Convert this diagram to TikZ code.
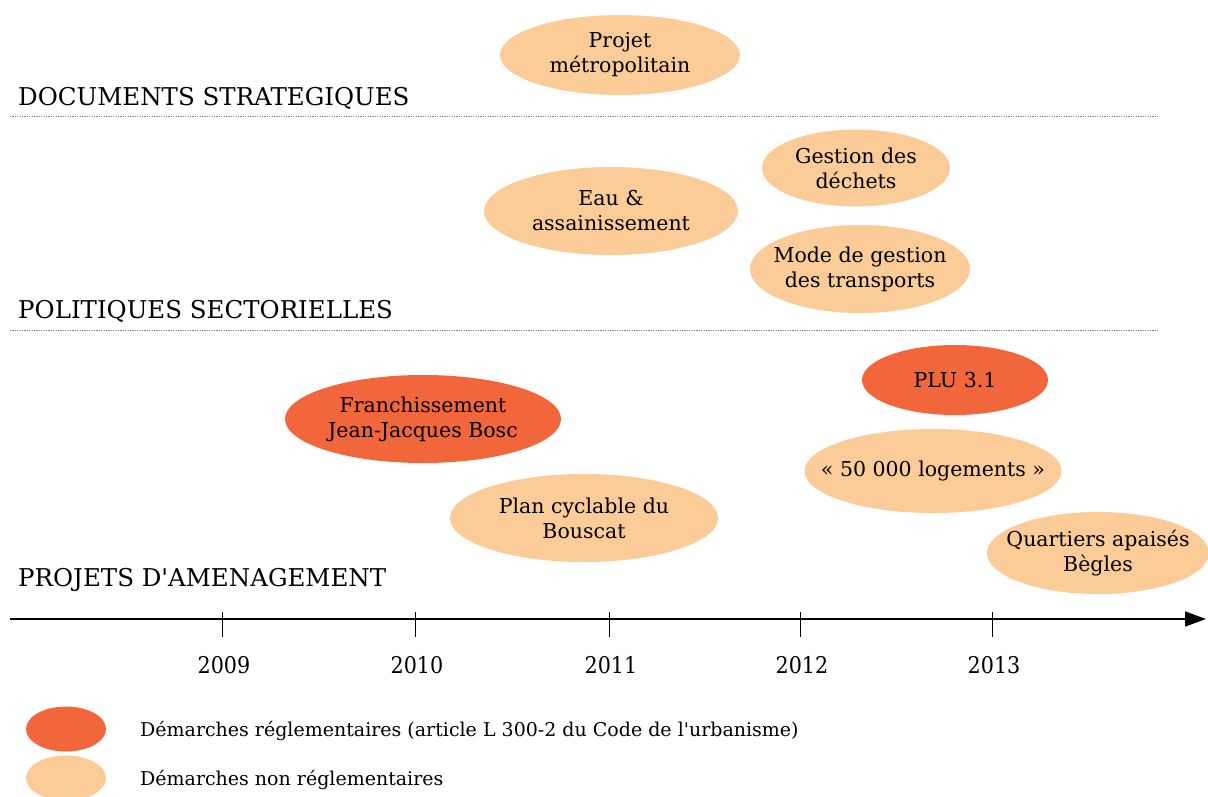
\documentclass[tikz,border=0pt]{standalone}
\usepackage{fontspec}
\setmainfont{DejaVu Serif}
\usetikzlibrary{shapes.geometric,arrows.meta}
\definecolor{dark}{RGB}{241,102,58}
\definecolor{light}{RGB}{251,203,152}
\tikzset{
  blob/.style={ellipse, inner sep=0pt},
  reg/.style={blob, fill=dark},
  nonreg/.style={blob, fill=light},
  evtext/.style={inner sep=0pt, align=center, font=\fontsize{20.5}{25}\selectfont, text=black},
  heading/.style={anchor=west, inner sep=0pt, font=\fontsize{24.5}{28}\selectfont},
  sep/.style={gray, line width=0.6pt, dash pattern=on 1.2pt off 1.2pt},
  tick/.style={line width=0.8pt},
  year/.style={font=\fontsize{23}{26}\selectfont},
  legtext/.style={anchor=west, inner sep=0pt, font=\fontsize{19}{22}\selectfont}
}
\begin{document}
\begin{tikzpicture}[x=1pt,y=-1pt]
\useasboundingbox (0,0) rectangle (1208,796);
% nodes
\node[nonreg, minimum width=240, minimum height=80] (proj) at (620,55) {};
\node[evtext] (projt) at (proj) {Projet\\métropolitain};
\node[heading] (h1) at (18,98) {DOCUMENTS STRATEGIQUES};
\coordinate (s1a) at (10,116); \coordinate (s1b) at (1158,116);
\draw[sep] (s1a) -- (s1b);

\node[nonreg, minimum width=188, minimum height=77] (dech) at (856,168) {};
\node[evtext] (decht) at (dech) {Gestion des\\déchets};
\node[nonreg, minimum width=254, minimum height=88] (eau) at (611,211) {};
\node[evtext] (eaut) at (eau) {Eau \&\\assainissement};
\node[nonreg, minimum width=220, minimum height=88] (mode) at (860,269) {};
\node[evtext] (modet) at (mode) {Mode de gestion\\des transports};
\node[heading] (h2) at (18,311) {POLITIQUES SECTORIELLES};
\coordinate (s2a) at (10,330); \coordinate (s2b) at (1158,330);
\draw[sep] (s2a) -- (s2b);

\node[reg, minimum width=186, minimum height=70] (plu) at (955,380) {};
\node[evtext] (plut) at (plu) {PLU 3.1};
\node[reg, minimum width=276, minimum height=88] (franch) at (423,419) {};
\node[evtext] (francht) at (franch) {Franchissement\\Jean-Jacques Bosc};
\node[nonreg, minimum width=257, minimum height=84] (loge) at (933,471) {};
\node[evtext] (loget) at (loge) {« 50 000 logements »};
\node[nonreg, minimum width=268, minimum height=88] (plan) at (584,518) {};
\node[evtext] (plant) at (plan) {Plan cyclable du\\Bouscat};
\node[nonreg, minimum width=222, minimum height=82] (quart) at (1098,553) {};
\node[evtext] (quartt) at (quart) {Quartiers apaisés\\Bègles};
\node[heading] (h3) at (18,580) {PROJETS D\textquotesingle AMENAGEMENT};

% axis
\coordinate (ax0) at (10,619); \coordinate (ax1) at (1206,619);
\draw[line width=1.6pt, -{Triangle[length=21pt,width=15pt]}] (ax0) -- (ax1);
\foreach \x/\y/\n in {222/2009/a,415/2010/b,609/2011/c,800/2012/d,992/2013/e}{
  \coordinate (t\n a) at (\x,612); \coordinate (t\n b) at (\x,637);
  \draw[tick] (t\n a) -- (t\n b);
  \node[year] (y\n) at (\x+2,665) {\scalebox{0.9}[1]{\y}};
}

% legend
\node[ellipse, fill=dark, minimum width=80, minimum height=45, inner sep=0pt] (lg1) at (66,729) {};
\node[ellipse, fill=light, minimum width=80, minimum height=45, inner sep=0pt] (lg2) at (66,778) {};
\node[legtext] (lt1) at (140,731) {Démarches réglementaires (article L 300-2 du Code de l\textquotesingle urbanisme)};
\node[legtext] (lt2) at (140,780) {Démarches non réglementaires};
\end{tikzpicture}
\end{document}
